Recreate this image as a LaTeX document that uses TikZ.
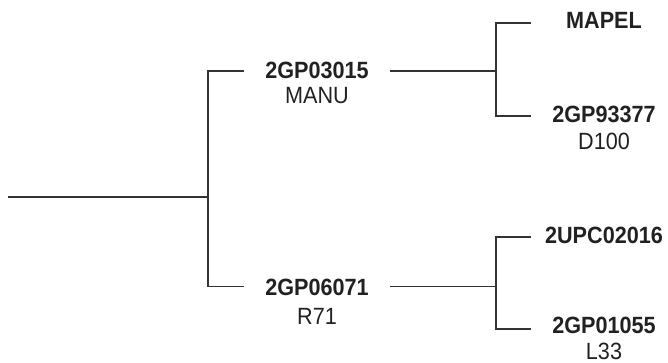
\documentclass[tikz,border=0pt]{standalone}
\usepackage{fontspec}
\setmainfont[FakeStretch=0.92]{Liberation Sans}
\begin{document}
\begin{tikzpicture}[x=1pt,y=-1pt,
  tx/.style={inner sep=0pt, minimum width=146pt, text height=17pt, text depth=#1, text=black!87, font=\fontsize{23.5}{28}\selectfont\bfseries},
  tx/.default=4pt,
  sub/.style={inner sep=0pt, anchor=base, text=black!87, font=\fontsize{23.5}{28}\selectfont},
  ln/.style={draw=black!80, line width=1.2pt}]
\useasboundingbox (0,0) rectangle (668,363);
\coordinate (r) at (8,197);
\node[tx=1pt] (a) at (317,71) {2GP03015};
\node[sub] (as) at (317,104) {MANU};
\node[tx=-4pt] (b) at (317,286.5) {2GP06071};
\node[sub] (bs) at (317,324) {R71};
\node[tx=5pt] (c) at (604,23) {MAPEL};
\node[tx=4.4pt] (d) at (604,116) {2GP93377};
\node[sub] (ds) at (604,150) {D100};
\node[tx=4.4pt] (e) at (604,237) {2UPC02016};
\node[tx=8.4pt] (f) at (604,329) {2GP01055};
\node[sub] (fs) at (604,359.5) {L33};
\draw[ln] (r) -- (208,197) coordinate (j1);
\draw[ln] (a.west) -| (j1) |- (b.west);
\draw[ln] (a.east) -- (496,71) coordinate (j2);
\draw[ln] (c.west) -| (j2) |- (d.west);
\draw[ln] (b.east) -- (496,286.5) coordinate (j3);
\draw[ln] (e.west) -| (j3) |- (f.west);
\end{tikzpicture}
\end{document}
